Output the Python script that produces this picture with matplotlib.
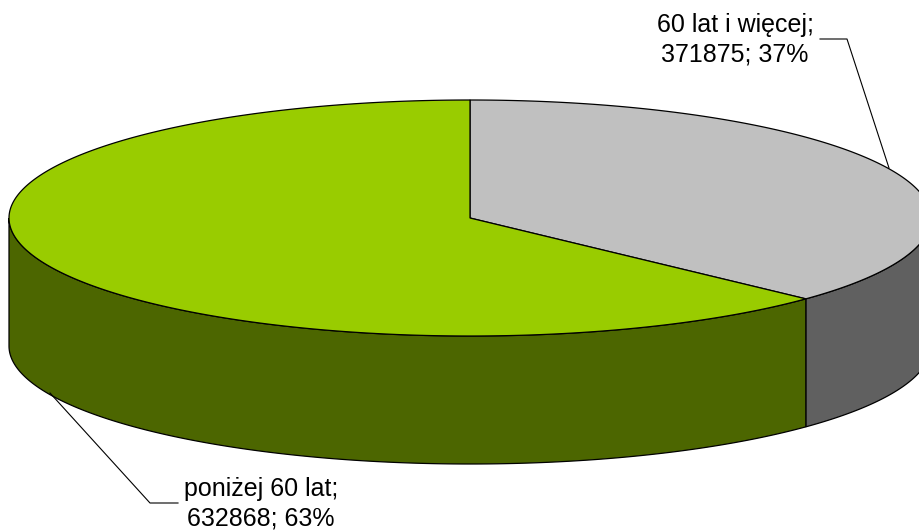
import numpy as np
import matplotlib.pyplot as plt
from matplotlib.patches import Polygon

# data
labels = ['60 lat i więcej', 'poniżej 60 lat']
values = [371875, 632868]
top_colors = ['#C0C0C0', '#99CC00']
side_colors = ['#606060', '#4C6600']

# geometry in pixel space (y down)
cx, cy = 470.0, 218.0
a, b = 461.0, 118.0
depth = 128.0


def pt(theta, dy=0.0):
    t = np.radians(theta)
    return np.column_stack([cx + a * np.sin(t), cy - b * np.cos(t) + dy])


fig = plt.figure(figsize=(9.2, 5.3), dpi=100)
ax = fig.add_axes([0, 0, 1, 1])
ax.set_xlim(0, 920)
ax.set_ylim(530, 0)
ax.axis('off')

total = sum(values)
fracs = [v / total for v in values]
bounds = np.concatenate([[0], np.cumsum(fracs) * 360])

# side walls (only the front half 90..270 is visible)
for i in range(len(values)):
    s, e = max(bounds[i], 90), min(bounds[i + 1], 270)
    if e <= s:
        continue
    th = np.linspace(s, e, 200)
    poly = np.vstack([pt(th), pt(th[::-1], depth)])
    ax.add_patch(Polygon(poly, closed=True, fc=side_colors[i], ec='black', lw=0.9, zorder=2))

# top faces
for i in range(len(values)):
    th = np.linspace(bounds[i], bounds[i + 1], 300)
    poly = np.vstack([[[cx, cy]], pt(th)])
    ax.add_patch(Polygon(poly, closed=True, fc=top_colors[i], ec='black', lw=0.9, zorder=3))

# labels and leader lines
font = dict(family='Liberation Sans', fontsize=18, color='black', ha='center', va='center',
            linespacing=1.3)
pct = [f'{round(f * 100)}%' for f in fracs]
ax.text(735, 40, f'{labels[0]};\n{values[0]}; {pct[0]}', **font)
ax.plot([820, 847, 889], [39, 39, 168], color='black', lw=0.8, zorder=4)
ax.text(261, 504, f'{labels[1]};\n{values[1]}; {pct[1]}', **font)
ax.plot([50, 150, 178], [393, 503, 503], color='black', lw=0.8, zorder=4)

fig.savefig('out.png', dpi=100)
